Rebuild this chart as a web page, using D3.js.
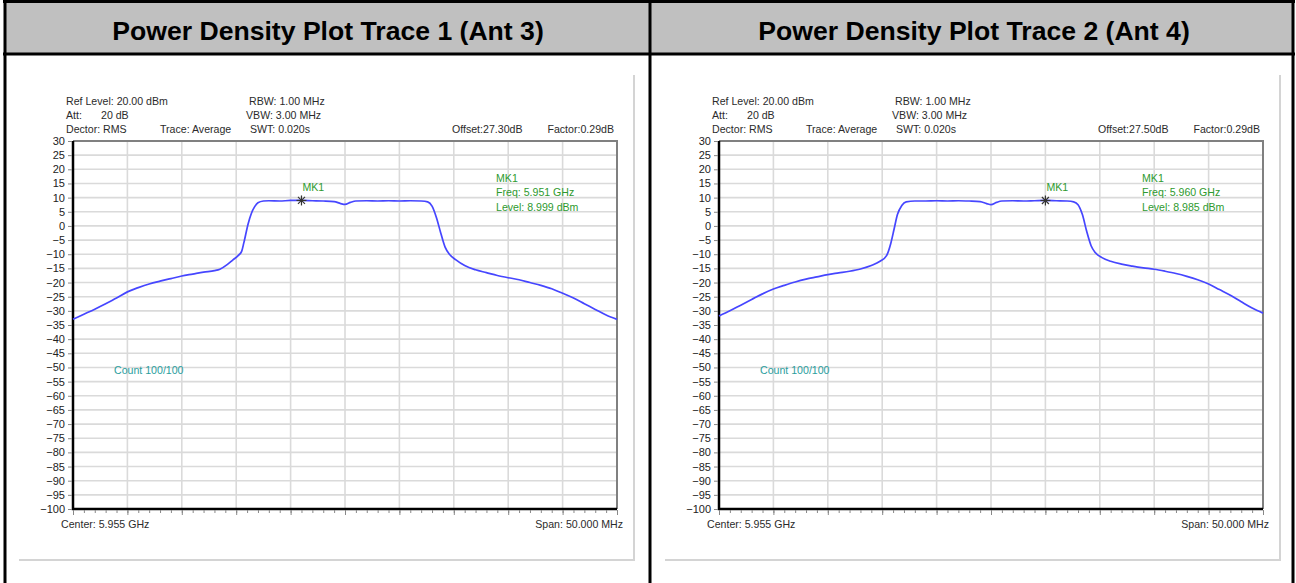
<!DOCTYPE html>
<html>
<head>
<meta charset="utf-8">
<script src="https://cdn.jsdelivr.net/npm/d3@7"></script>
<style>
  html, body { margin: 0; padding: 0; background: #fff; }
  svg { display: block; }
  .info { font-family: "Liberation Sans", Arial, sans-serif; font-size: 10.6px; fill: #2b2b2b; }
</style>
</head>
<body>
<svg id="chart" width="1296" height="583"></svg>
<script>
// Panel titles
const panelTitles = ['Power Density Plot Trace 1 (Ant 3)', 'Power Density Plot Trace 2 (Ant 4)'];
const offsetTexts = ['Offset:27.30dB', 'Offset:27.50dB'];

// Marker values (MHz, dBm)
const markerFreq = [5951, 5960];
const markerLevel = [8.999, 8.985];
const markerFreqText = ['Freq: 5.951 GHz', 'Freq: 5.960 GHz'];
const markerLevelText = ['Level: 8.999 dBm', 'Level: 8.985 dBm'];

// Axis ticks
const yTicks = [30, 25, 20, 15, 10, 5, 0, -5, -10, -15, -20, -25, -30, -35, -40, -45, -50,
  -55, -60, -65, -70, -75, -80, -85, -90, -95, -100];
const xGrid = [5930, 5935, 5940, 5945, 5950, 5955, 5960, 5965, 5970, 5975, 5980];

// Trace 1 (Ant 3): [MHz, dBm]
const trace1 = [
  [5930, -33.0], [5931, -31.2], [5932, -29.4], [5933, -27.5], [5934, -25.5], [5935, -23.3],
  [5936, -21.8], [5937, -20.5], [5938, -19.5], [5939, -18.6], [5940, -17.7], [5941, -17.0],
  [5942, -16.3], [5943, -15.8], [5943.5, -15.3], [5944.2, -13.6], [5944.7, -12.0], [5945.2, -10.4],
  [5945.5, -9.0], [5945.7, -6.0], [5946.1, 0.8], [5946.4, 4.5], [5946.7, 6.8], [5947.0, 8.2],
  [5947.5, 8.8], [5948, 8.9], [5949, 8.8], [5950, 9.0], [5951, 9.0], [5952, 8.9], [5953, 8.8],
  [5954, 8.6], [5954.6, 7.9], [5955.0, 7.6], [5955.5, 8.3], [5956, 8.8], [5957, 8.9], [5958, 8.8],
  [5959, 8.9], [5960, 8.8], [5961, 8.9], [5962, 8.8], [5962.6, 8.5], [5963.0, 7.0], [5963.4, 3.0],
  [5963.8, -2.5], [5964.2, -7.5], [5964.6, -10.0], [5965.2, -12.0], [5966, -14.0], [5967, -15.5],
  [5968, -16.5], [5969, -17.5], [5970, -18.3], [5971, -19.0], [5972, -20.0], [5973, -21.0],
  [5974, -22.2], [5975, -23.8], [5976, -25.5], [5977, -27.5], [5978, -29.5], [5979, -31.5],
  [5980, -33.0]
];

// Trace 2 (Ant 4): [MHz, dBm]
const trace2 = [
  [5930, -31.8], [5931, -30.0], [5932, -28.0], [5933, -26.0], [5934, -24.0], [5935, -22.3],
  [5936, -21.0], [5937, -19.8], [5938, -18.8], [5939, -18.0], [5940, -17.2], [5941, -16.6],
  [5942, -16.0], [5943, -15.2], [5944, -14.0], [5944.8, -12.5], [5945.4, -10.5], [5945.8, -6.0],
  [5946.1, -1.0], [5946.4, 4.0], [5946.8, 7.2], [5947.2, 8.5], [5948, 8.8], [5949, 8.8],
  [5950, 8.9], [5951, 8.8], [5952, 8.9], [5953, 8.8], [5954, 8.6], [5954.6, 7.9], [5955.0, 7.5],
  [5955.5, 8.3], [5956, 8.8], [5957, 8.9], [5958, 8.8], [5959, 8.9], [5960, 9.0], [5961, 8.9],
  [5962, 8.8], [5962.6, 8.5], [5963.0, 7.5], [5963.4, 4.0], [5963.8, -2.0], [5964.2, -7.0],
  [5964.6, -9.5], [5965.2, -11.2], [5966, -12.5], [5967, -13.5], [5968, -14.2], [5969, -14.8],
  [5970, -15.3], [5971, -16.0], [5972, -16.8], [5973, -17.8], [5974, -19.0], [5975, -20.5],
  [5976, -22.5], [5977, -24.5], [5978, -26.8], [5979, -29.0], [5980, -30.8]
];

const traces = [trace1, trace2];

const svg = d3.select('#chart');
const font = '"Liberation Sans", Arial, sans-serif';

// Table frame: header band and borders
svg.append('rect').attr('x', 5).attr('y', 2).attr('width', 1288).attr('height', 52).attr('fill', '#c0c0c0');
const frame = svg.append('g').attr('stroke', '#000').attr('stroke-width', 3);
frame.append('line').attr('x1', 3).attr('x2', 1295).attr('y1', 1.5).attr('y2', 1.5);
frame.append('line').attr('x1', 3).attr('x2', 1295).attr('y1', 54).attr('y2', 54);
frame.append('line').attr('x1', 5).attr('x2', 5).attr('y1', 0).attr('y2', 583);
frame.append('line').attr('x1', 650).attr('x2', 650).attr('y1', 0).attr('y2', 583);
frame.append('line').attr('x1', 1293).attr('x2', 1293).attr('y1', 0).attr('y2', 583);

panelTitles.forEach((t, i) => {
  svg.append('text')
    .attr('x', i === 0 ? 328 : 974).attr('y', 39.5)
    .attr('text-anchor', 'middle')
    .style('font-family', font).style('font-weight', 'bold').style('font-size', '26.6px')
    .attr('fill', '#000')
    .text(t);
});

// Draw one spectrum panel
function drawPanel(i) {
  const dx = i * 646;
  const g = svg.append('g').attr('transform', `translate(${dx},0)`);

  // Image edge (light shadow on right & bottom)
  g.append('path')
    .attr('d', 'M634,75 V560 H19')
    .attr('fill', 'none').attr('stroke', '#d4d4d4').attr('stroke-width', 2);

  const x = d3.scaleLinear().domain([5930, 5980]).range([73, 617]);
  const y = d3.scaleLinear().domain([-100, 30]).range([509, 141]);

  // Grid
  g.append('g').selectAll('line').data(yTicks.slice(1, -1)).join('line')
    .attr('x1', 73).attr('x2', 617)
    .attr('y1', d => y(d)).attr('y2', d => y(d))
    .attr('stroke', '#dadada').attr('stroke-width', 1.6);
  g.append('g').selectAll('line').data(xGrid.slice(1, -1)).join('line')
    .attr('x1', d => x(d)).attr('x2', d => x(d))
    .attr('y1', 141).attr('y2', 509)
    .attr('stroke', '#dadada').attr('stroke-width', 1.6);

  // Frame: top & right grey, left & bottom black
  g.append('path').attr('d', 'M73,141 H617 V509')
    .attr('fill', 'none').attr('stroke', '#808080').attr('stroke-width', 2);
  g.append('path').attr('d', 'M73,141 V509 H617')
    .attr('fill', 'none').attr('stroke', '#000').attr('stroke-width', 2.5);

  // Y axis ticks and labels
  const yAxis = d3.axisLeft(y).tickValues(yTicks).tickSize(4).tickPadding(3);
  const ya = g.append('g').attr('transform', 'translate(72,0)').call(yAxis);
  ya.select('.domain').remove();
  ya.selectAll('line').attr('stroke', '#888');
  ya.selectAll('text').style('font-family', font).style('font-size', '11px').attr('fill', '#222');

  // X axis minor ticks
  const xa = g.append('g').attr('transform', 'translate(0,510)')
    .call(d3.axisBottom(x).ticks(40).tickSize(3).tickFormat(''));
  xa.select('.domain').remove();
  xa.selectAll('line').attr('stroke', '#888');
  const xb = g.append('g').attr('transform', 'translate(0,510)')
    .call(d3.axisBottom(x).tickValues(xGrid).tickSize(5).tickFormat(''));
  xb.select('.domain').remove();
  xb.selectAll('line').attr('stroke', '#888');

  // Trace
  const line = d3.line().x(d => x(d[0])).y(d => y(d[1])).curve(d3.curveMonotoneX);
  g.append('path').datum(traces[i])
    .attr('d', line)
    .attr('fill', 'none').attr('stroke', '#4646ff').attr('stroke-width', 1.7);

  // Marker
  const mx = x(markerFreq[i]), my = y(markerLevel[i]);
  const star = g.append('g').attr('stroke', '#333').attr('stroke-width', 1.2);
  [[-5, 0, 5, 0], [0, -5, 0, 5], [-3.5, -3.5, 3.5, 3.5], [-3.5, 3.5, 3.5, -3.5]].forEach(s => {
    star.append('line').attr('x1', mx + s[0]).attr('y1', my + s[1]).attr('x2', mx + s[2]).attr('y2', my + s[3]);
  });
  g.append('text').attr('class', 'info').attr('x', mx + 1).attr('y', my - 9.5)
    .style('fill', '#2e9a2e').text('MK1');

  // Marker readout
  const mk = [['MK1', 178], [markerFreqText[i], 192], [markerLevelText[i], 206.5]];
  mk.forEach(m => {
    g.append('text').attr('class', 'info').attr('x', 496).attr('y', m[1] + 4)
      .style('fill', '#2e9a2e').text(m[0]);
  });

  // Instrument settings
  const info = [
    ['Ref Level: 20.00 dBm', 66, 101], ['Att:', 66, 115], ['20 dB', 101, 115],
    ['Dector: RMS', 66, 129], ['Trace: Average', 160, 129],
    ['RBW: 1.00 MHz', 249, 101], ['VBW: 3.00 MHz', 246, 115], ['SWT: 0.020s', 250, 129],
    [offsetTexts[i], 452, 129]
  ];
  info.forEach(t => {
    g.append('text').attr('class', 'info').attr('x', t[1]).attr('y', t[2] + 4).text(t[0]);
  });
  g.append('text').attr('class', 'info').attr('x', 614).attr('y', 133)
    .attr('text-anchor', 'end').text('Factor:0.29dB');

  g.append('text').attr('class', 'info').attr('x', 114).attr('y', 374)
    .style('fill', '#2a9e9e').text('Count 100/100');

  g.append('text').attr('class', 'info').attr('x', 61).attr('y', 528).text('Center: 5.955 GHz');
  g.append('text').attr('class', 'info').attr('x', 623).attr('y', 528)
    .attr('text-anchor', 'end').text('Span: 50.000 MHz');
}

drawPanel(0);
drawPanel(1);
</script>
</body>
</html>
